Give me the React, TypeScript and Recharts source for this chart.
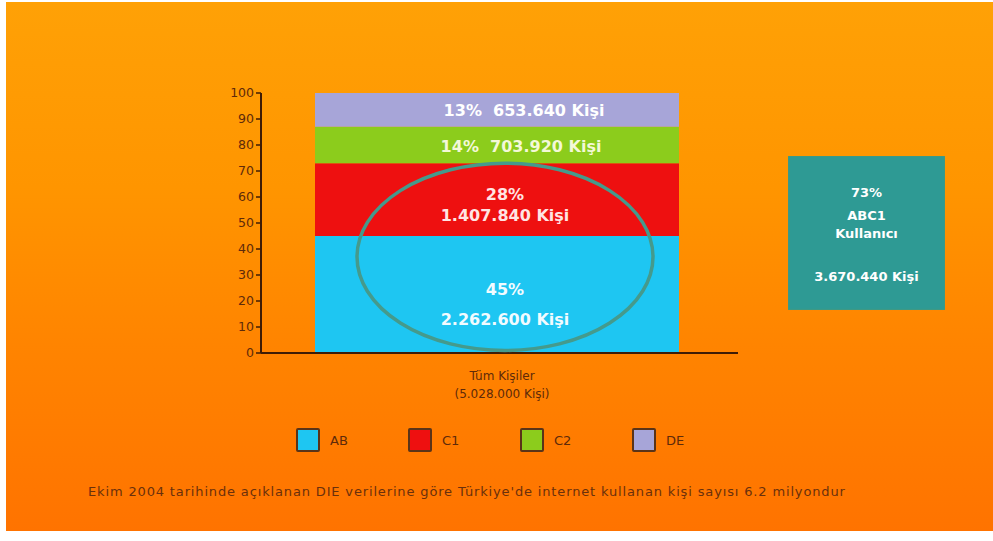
import { BarChart, Bar, XAxis, YAxis, LabelList, ReferenceArea } from 'recharts';

const categories = ['Tüm Kişiler'];
const segmentKeys = ['AB', 'C1', 'C2', 'DE'];
const segmentPercents = [45, 28, 14, 13];
const segmentPeople = [2262600, 1407840, 703920, 653640];
const yTicks = [0, 10, 20, 30, 40, 50, 60, 70, 80, 90, 100];
const highlightKeys = ['AB', 'C1'];
const highlightName = 'ABC1';
const highlightCaption = 'Kullanıcı';
const footnote =
  "Ekim 2004 tarihinde açıklanan DIE verilerine göre Türkiye'de internet kullanan kişi sayısı 6.2 milyondur";

const colors: Record<string, string> = {
  AB: '#1ec6f2',
  C1: '#ee1010',
  C2: '#8ccc1c',
  DE: '#a7a5d8',
};

// label layout per segment: two-line or one-line, offsets from bar centre
const labelLayout: Record<string, { twoLines: boolean; dx: number; dys: number[]; fill: string }> = {
  AB: { twoLines: true, dx: 8, dys: [-5, 25], fill: '#f2fbff' },
  C1: { twoLines: true, dx: 8, dys: [-5, 16], fill: '#ffe4e4' },
  C2: { twoLines: false, dx: 24, dys: [1], fill: '#f4f8d8' },
  DE: { twoLines: false, dx: 27, dys: [1], fill: '#ffffff' },
};

const data = categories.map((name) => {
  const row: Record<string, string | number> = { name };
  segmentKeys.forEach((k, i) => (row[k] = segmentPercents[i]));
  return row;
});

const fmt = (n: number) => String(n).replace(/\B(?=(\d{3})+(?!\d))/g, '.');
const totalPeople = segmentPeople.reduce((a, b) => a + b, 0);
const highlightPercent = highlightKeys.reduce((s, k) => s + segmentPercents[segmentKeys.indexOf(k)], 0);
const highlightPeople = highlightKeys.reduce((s, k) => s + segmentPeople[segmentKeys.indexOf(k)], 0);

const FONT = '"DejaVu Sans", "Liberation Sans", Arial, sans-serif';
const BROWN = '#5e2a0a';

const makeLabel = (key: string) => (props: any) => {
  const vb = props.viewBox ?? props;
  const x = props.x ?? vb.x;
  const y = props.y ?? vb.y;
  const w = props.width ?? vb.width;
  const h = props.height ?? vb.height;
  const i = segmentKeys.indexOf(key);
  const lay = labelLayout[key];
  const cx = x + w / 2 + lay.dx;
  const cy = y + h / 2;
  const pct = `${segmentPercents[i]}%`;
  const ppl = `${fmt(segmentPeople[i])} Kişi`;
  const lines = lay.twoLines ? [pct, ppl] : [`${pct}  ${ppl}`];
  return (
    <g>
      {lines.map((t, j) => (
        <text
          key={j}
          x={cx}
          y={cy + lay.dys[j]}
          textAnchor="middle"
          dominantBaseline="central"
          fill={lay.fill}
          fontFamily={FONT}
          fontWeight="bold"
          fontSize={16}
          style={{ whiteSpace: 'pre' }}
        >
          {t}
        </text>
      ))}
    </g>
  );
};

const CategoryTick = ({ x, y, payload }: any) => (
  <g>
    <text x={x + 5} y={y + 19} textAnchor="middle" fill={BROWN} fontFamily={FONT} fontSize={12}>
      {payload.value}
    </text>
    <text x={x + 5} y={y + 37} textAnchor="middle" fill={BROWN} fontFamily={FONT} fontSize={12}>
      ({fmt(totalPeople)} Kişi)
    </text>
  </g>
);

const HighlightEllipse = (p: any) => (
  <ellipse
    cx={p.x + p.width / 2 + 8}
    cy={p.y + p.height / 2}
    rx={148}
    ry={p.height / 2}
    fill="none"
    stroke="#459a8c"
    strokeWidth={3.5}
  />
);

export default function App() {
  return (
    <div style={{ position: 'absolute', left: 0, top: 0, width: 993, height: 541, background: '#fff', fontFamily: FONT }}>
      <div
        style={{
          position: 'absolute',
          left: 6,
          top: 2,
          width: 987,
          height: 529,
          background: 'linear-gradient(180deg, #ffa106 0%, #ff9500 35%, #ff8400 65%, #ff7300 100%)',
        }}
      />
      <div style={{ position: 'absolute', left: 0, top: 0 }}>
        <BarChart width={993} height={541} data={data} margin={{ top: 93, right: 255, bottom: 158, left: 221 }}>
          <XAxis
            dataKey="name"
            padding={{ left: 0, right: 5 }}
            axisLine={{ stroke: '#3e1c06', strokeWidth: 2 }}
            tickLine={false}
            tick={<CategoryTick />}
            height={30}
          />
          <YAxis
            domain={[0, 100]}
            ticks={yTicks}
            width={40}
            interval={0}
            tickSize={5}
            axisLine={{ stroke: '#3e1c06', strokeWidth: 2 }}
            tickLine={{ stroke: '#3e1c06', strokeWidth: 1.5 }}
            tick={{ fill: BROWN, fontSize: 12.5, fontFamily: FONT }}
          />
          {segmentKeys.map((k) => (
            <Bar key={k} dataKey={k} stackId="a" fill={colors[k]} barSize={364} isAnimationActive={false}>
              <LabelList dataKey={k} content={makeLabel(k)} />
            </Bar>
          ))}
          <ReferenceArea y1={1} y2={highlightPercent} ifOverflow="visible" zIndex={900} shape={HighlightEllipse} />
        </BarChart>
      </div>

      {/* ABC1 box */}
      <div
        style={{
          position: 'absolute',
          left: 788,
          top: 156,
          width: 157,
          height: 154,
          background: '#2e9a94',
          boxShadow: 'inset 0 0 2px #6a9a60',
          color: '#fff',
          fontWeight: 'bold',
          fontSize: 13,
          textAlign: 'center',
        }}
      >
        <div style={{ position: 'absolute', top: 29, width: '100%' }}>{highlightPercent}%</div>
        <div style={{ position: 'absolute', top: 52, width: '100%' }}>{highlightName}</div>
        <div style={{ position: 'absolute', top: 70, width: '100%' }}>{highlightCaption}</div>
        <div style={{ position: 'absolute', top: 113, width: '100%' }}>{fmt(highlightPeople)} Kişi</div>
      </div>

      {/* legend */}
      {segmentKeys.map((k, i) => (
        <div key={k} style={{ position: 'absolute', left: 296 + i * 112, top: 428, display: 'flex', alignItems: 'center' }}>
          <div style={{ width: 20, height: 20, background: colors[k], border: '2px solid #5a3418', borderRadius: 2 }} />
          <span style={{ marginLeft: 10, fontSize: 13, color: BROWN }}>{k}</span>
        </div>
      ))}

      {/* footnote */}
      <div
        style={{
          position: 'absolute',
          left: 88,
          top: 484,
          fontSize: 13,
          letterSpacing: 0.85,
          color: '#6a300c',
          whiteSpace: 'nowrap',
        }}
      >
        {footnote}
      </div>
    </div>
  );
}
